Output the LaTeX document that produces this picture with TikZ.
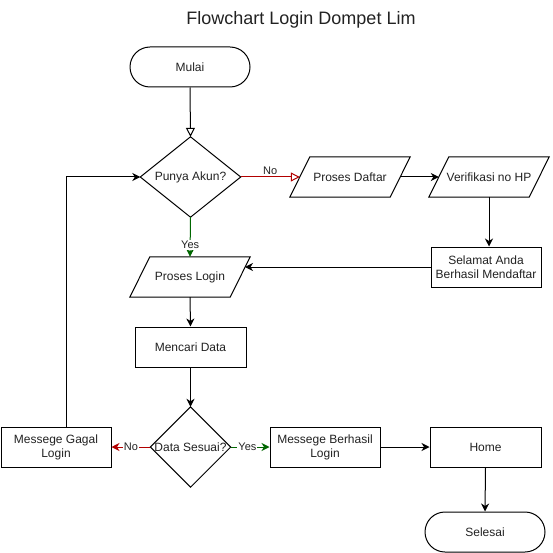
\documentclass[tikz,border=0pt]{standalone}
\usepackage{fontspec}
\setmainfont{Liberation Sans}
\usetikzlibrary{arrows.meta,calc}
\definecolor{txt}{HTML}{222222}
\definecolor{nored}{HTML}{B20000}
\definecolor{yesgreen}{HTML}{006600}
\tikzset{
  box/.style={draw=black,line width=1pt,fill=white,minimum width=110pt,minimum height=40pt,inner sep=0pt,align=center,text=txt,font=\fontsize{12}{14}\selectfont},
  term/.style={box,minimum width=120pt,rounded corners=20pt},
  ghost/.style={minimum width=100pt,minimum height=40pt,inner sep=0pt,align=center,text=txt,font=\fontsize{12}{14}\selectfont},
  shape outline/.style={draw=black,line width=1pt,fill=white},
  conn/.style={line width=1pt,-{Stealth[length=8pt,width=8pt,inset=2.5pt]}},
  openconn/.style={line width=1pt,-{Triangle[open,length=9pt,width=9pt,fill=white]}},
  lbl/.style={fill=white,inner sep=1pt,text=txt,font=\fontsize{11}{13}\selectfont},
}
\newcommand{\paral}[1]{\filldraw[shape outline] ([xshift=10pt]#1.north west) -- ([xshift=10pt]#1.north east) -- ([xshift=-10pt]#1.south east) -- ([xshift=-10pt]#1.south west) -- cycle;}
\newcommand{\diam}[1]{\filldraw[shape outline] (#1.north) -- (#1.east) -- (#1.south) -- (#1.west) -- cycle;}
\begin{document}
\begin{tikzpicture}[x=1pt,y=-1pt]
\useasboundingbox (0,0) rectangle (552,553);
\node[text=txt,font=\fontsize{18}{20}\selectfont] (title) at (301,20) {Flowchart Login Dompet Lim};

\node[term] (mulai) at (190,67) {Mulai};

% diamond 1
\node[ghost,minimum width=100pt,minimum height=80pt] (d1) at (190.5,177) {};
\diam{d1}
\node[ghost] (d1t) at (d1) {Punya Akun?};

% Proses Daftar
\node[ghost] (pd) at (350,177) {};
\paral{pd}
\node[ghost] (pdt) at (pd) {Proses Daftar};

% Verifikasi
\node[ghost] (vh) at (489,177) {};
\paral{vh}
\node[ghost] (vht) at (vh) {Verifikasi no HP};

\node[box] (sel) at (486,267) {Selamat Anda\\Berhasil Mendaftar};

% Proses Login
\node[ghost] (pl) at (190,277) {};
\paral{pl}
\node[ghost] (plt) at (pl) {Proses Login};
\coordinate (plin) at (245,267);

\node[box,minimum width=111pt] (mc) at (190.5,347) {Mencari Data};

% diamond 2
\node[ghost,minimum width=80pt,minimum height=80pt] (d2) at (190.5,447) {};
\diam{d2}
\node[ghost,minimum width=80pt] (d2t) at (d2) {Data Sesuai?};

\node[box] (gagal) at (56,447) {Messege Gagal\\Login};
\node[box] (berhasil) at (325,447) {Messege Berhasil\\Login};
\node[box,minimum width=111pt] (home) at (485.5,447) {Home};
\node[term] (selesai) at (485,532) {Selesai};

% connectors
\draw[openconn] (mulai.south) -- (d1.north);
\draw[openconn,nored] (d1.east) -- node[lbl,above=1pt,fill=none] {No} (pd.west);
\draw[conn] (pd.east) -- (vh.west);
\draw[conn] (vh.south) -- (sel.north -| vh.south);
\draw[conn] (sel.west) -- (plin);
\draw[conn,yesgreen] (d1.south) -- node[lbl,pos=0.7] {Yes} (pl.north);
\draw[conn] (pl.south) -- (mc.north);
\draw[conn] (mc.south) -- (d2.north);
\draw[conn,nored] (d2.west) -- node[lbl] {No} (gagal.east);
\draw[conn,yesgreen] (d2.east) -- node[lbl,pos=0.43] {Yes} (berhasil.west);
\draw[conn] (berhasil.east) -- (home.west);
\draw[conn] (home.south) -- (selesai.north);
\draw[conn] ([xshift=10pt]gagal.north) |- (d1.west);
\end{tikzpicture}
\end{document}
